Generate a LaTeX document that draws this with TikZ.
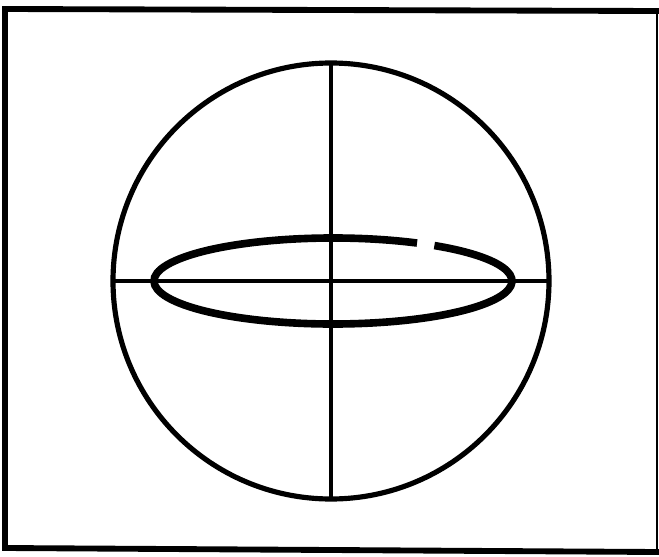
\documentclass[tikz,border=0pt]{standalone}
\usetikzlibrary{calc}
\tikzset{
  frame/.style={draw, line width=5pt, line cap=rect},
  thinedge/.style={draw, line width=2pt},
  sphere/.style={draw, line width=4.4pt},
  axisln/.style={draw, line width=3.2pt},
  orbit/.style={draw, line width=6.5pt},
}

\begin{document}
\begin{tikzpicture}[x=0.03cm, y=-0.03cm]
  \useasboundingbox (0,0) rectangle (659,557);
  % frame: heavy on three sides, light on the right
  \coordinate (tl) at (5,9);
  \coordinate (tr) at (657,11);
  \coordinate (bl) at (5,548);
  \coordinate (br) at (657,552);
  \draw[frame] (tr) -- (tl) -- (bl) -- (br);
  \draw[thinedge] (tr) -- (br);
  \coordinate (c) at (331,281);
  \draw[sphere] (c) circle[radius=218];
  \coordinate (top) at (331,63);
  \coordinate (bot) at (331,499);
  \coordinate (lft) at (113,281);
  \coordinate (rgt) at (549,281);
  \draw[axisln] (top) -- (bot);
  \draw[axisln] (lft) -- (rgt);
  % ellipse with a small break at upper right
  \coordinate (e) at (333,281);
  \draw[orbit] ($(e)+({179*cos(62)},{-43*sin(62)})$)
    arc[start angle=-62, end angle=-415.5, x radius=179, y radius=43];
\end{tikzpicture}
\end{document}
